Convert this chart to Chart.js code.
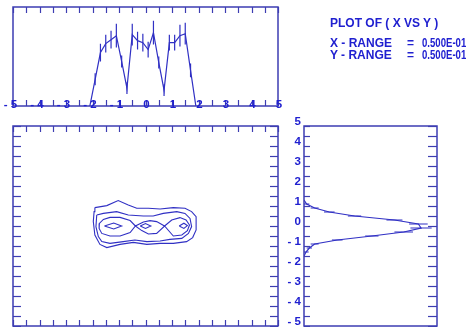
<!DOCTYPE html>
<html><head><meta charset="utf-8">
<script src="https://cdn.jsdelivr.net/npm/chart.js@4.4.0/dist/chart.umd.min.js"></script>
<style>
html,body{margin:0;padding:0;background:#fff;width:466px;height:327px;overflow:hidden;position:relative}
canvas{position:absolute;left:0;top:0}
.t{position:absolute;font:bold 12px "Liberation Sans",Arial,sans-serif;color:#2020d0;white-space:pre;line-height:12px}
</style></head><body>
<canvas id="cTop" width="466" height="327"></canvas>
<canvas id="cMain" width="466" height="327"></canvas>
<canvas id="cSide" width="466" height="327"></canvas>
<div class="t" style="left:330px;top:17px">PLOT OF ( X VS Y )</div>
<div class="t" style="left:330px;top:37px">X - RANGE</div>
<div class="t" style="left:407px;top:37px">=</div>
<div class="t" style="left:422px;top:37px;transform:scaleX(0.8);transform-origin:0 0">0.500E-01</div>
<div class="t" style="left:330px;top:48.5px">Y - RANGE</div>
<div class="t" style="left:407px;top:48.5px">=</div>
<div class="t" style="left:422px;top:48.5px;transform:scaleX(0.8);transform-origin:0 0">0.500E-01</div>
<script>
// ---- data ----
const projX = [-2.1,-1.9,-1.7,-1.5,-1.3,-1.1,-0.9,-0.7,-0.5,-0.3,-0.1,0.1,0.3,0.5,0.7,0.9,1.1,1.3,1.5,1.7,1.9];
const projXCounts = [0,27,54,63,67,71,45,18,72,66,64,57,74,44,16,64,64,71,73,36,0];
const projXErr = [0,6,9,9,9,12,6,6,11,9,9,8,12,6,6,8,8,11,11,7,0];

const projY = [1.3,1.1,0.9,0.7,0.5,0.3,0.1,-0.1,-0.3,-0.5,-0.7,-0.9,-1.1,-1.3,-1.5];
const projYCounts = [0,2,8,19,38,68,86,88,75,51,25,8,4,1.5,0];
const projYErr = [0,2,3,4,5,6,7,8,7,5,4,3,2,2,0];

const contour1 = [[-1.91,0.92],[-1.46,1.02],[-1.03,1.27],[-0.65,1.05],[-0.33,0.89],[0.11,0.89],[0.55,0.85],[1.05,0.92],[1.49,0.89],[1.74,0.72],[1.91,0.47],[1.91,-0.2],[1.78,-0.58],[1.55,-0.78],[1.05,-0.87],[0.55,-0.87],[0.05,-0.92],[-0.46,-0.82],[-0.96,-0.92],[-1.46,-1.08],[-1.72,-0.92],[-1.91,-0.45],[-1.97,0.22],[-1.94,0.72]];
const contour2 = [[-1.84,0.55],[-1.59,0.63],[-1.09,0.72],[-0.65,0.55],[-0.08,0.5],[0.29,0.5],[0.67,0.63],[1.18,0.72],[1.49,0.63],[1.68,0.38],[1.74,-0.03],[1.62,-0.37],[1.37,-0.62],[0.92,-0.67],[0.55,-0.75],[0.05,-0.78],[-0.4,-0.7],[-0.84,-0.78],[-1.34,-0.87],[-1.65,-0.78],[-1.78,-0.53],[-1.87,-0.03]];
const contour3 = [[-0.38,0],[-0.58,0.27],[-0.96,0.43],[-1.34,0.43],[-1.59,0.33],[-1.74,0.13],[-1.75,-0.12],[-1.65,-0.37],[-1.34,-0.5],[-0.96,-0.5],[-0.58,-0.33],[-0.38,0],[-0.08,0.2],[0.17,0.27],[0.42,0.22],[0.72,0],[0.99,0.3],[1.3,0.42],[1.53,0.3],[1.66,0.05],[1.58,-0.23],[1.37,-0.45],[1.05,-0.5],[0.72,0],[0.42,-0.37],[0.11,-0.4],[-0.14,-0.23]];
const contourL = [[-1.55,0],[-1.2,0.15],[-0.9,0],[-1.2,-0.15]];
const contourM = [[-0.2,0],[0,0.12],[0.2,0],[0,-0.12]];
const contourR = [[1.27,0],[1.45,0.14],[1.58,0.02],[1.45,-0.12]];

const tickSteps = [-5,-4.5,-4,-3.5,-3,-2.5,-2,-1.5,-1,-0.5,0,0.5,1,1.5,2,2.5,3,3.5,4,4.5,5];
const labelValues = [-5,-4,-3,-2,-1,0,1,2,3,4,5];
const xTickLabels = ['- 5','- 4','- 3','- 2','- 1','0','1','2','3','4','5'];
const yTickLabels = ['- 5','- 4','- 3','- 2','- 1','0','1','2','3','4','5'];

// ---- style ----
const FRAME = '#3d3db2';
const DATA = '#3030c4';
const TEXT = '#2020d0';
const FONT = 'bold 11.5px "Liberation Sans", Arial, sans-serif';
const W = 466, H = 327;

const framePlugin = {
  id: 'frameTicks',
  afterDatasetsDraw(chart, args, opts) {
    const {ctx, chartArea: a, scales} = chart;
    ctx.save();
    ctx.strokeStyle = FRAME;
    ctx.lineWidth = 1.5;
    ctx.strokeRect(a.left, a.top, a.right - a.left, a.bottom - a.top);
    ctx.lineWidth = 1.2;
    (opts.ticks || []).forEach(t => {
      const s = scales[t.axis];
      tickSteps.forEach(v => {
        const p = Math.round(s.getPixelForValue(v)) + 0.5;
        ctx.beginPath();
        if (t.side === 'top') { ctx.moveTo(p, a.top); ctx.lineTo(p, a.top + t.len); }
        if (t.side === 'bottom') { ctx.moveTo(p, a.bottom); ctx.lineTo(p, a.bottom - t.len); }
        if (t.side === 'left') { ctx.moveTo(a.left, p); ctx.lineTo(a.left + t.len, p); }
        if (t.side === 'right') { ctx.moveTo(a.right, p); ctx.lineTo(a.right - t.len, p); }
        ctx.stroke();
      });
    });
    if (opts.labels) {
      const L = opts.labels;
      const s = scales[L.axis];
      ctx.font = FONT;
      ctx.fillStyle = TEXT;
      ctx.textBaseline = 'middle';
      ctx.textAlign = 'right';
      labelValues.forEach((v, i) => {
        const txt = L.texts[i];
        const p = s.getPixelForValue(v);
        if (L.axis === 'x') {
          const dw = ctx.measureText(txt.slice(-1)).width;
          ctx.fillText(txt, p + dw / 2 + 1, L.pos);
        } else {
          ctx.fillText(txt, L.pos, p - 4);
        }
      });
    }
    ctx.restore();
  }
};

function baseOpts(pad, xr, yr, plug) {
  return {
    responsive: false, animation: false, events: [],
    layout: {padding: pad},
    scales: {
      x: {type: 'linear', min: xr[0], max: xr[1], display: false},
      y: {type: 'linear', min: yr[0], max: yr[1], display: false}
    },
    plugins: {legend: {display: false}, tooltip: {enabled: false}, frameTicks: plug}
  };
}
const lineDs = (data, w) => ({data, showLine: true, spanGaps: false, pointRadius: 0, borderColor: DATA, borderWidth: w, fill: false, tension: 0});
const closed = c => c.concat([c[0]]).map(p => ({x: p[0], y: p[1]}));

// ---- top: X projection ----
const topLine = projX.map((x, i) => ({x, y: projXCounts[i]}));
const topErr = [];
projX.forEach((x, i) => {
  if (projXErr[i] > 0) topErr.push({x, y: projXCounts[i] - projXErr[i]}, {x, y: projXCounts[i] + projXErr[i]}, {x, y: null});
});
new Chart(document.getElementById('cTop'), {
  type: 'scatter',
  data: {datasets: [lineDs(topLine, 1.2), lineDs(topErr, 1.2)]},
  options: baseOpts({left: 13, top: 7, right: W - 278, bottom: H - 106}, [-5, 5], [0, 100], {
    ticks: [{axis: 'x', side: 'top', len: 6}, {axis: 'x', side: 'bottom', len: 6}],
    labels: {axis: 'x', texts: xTickLabels, pos: 104.5}
  }),
  plugins: [framePlugin]
});

// ---- main: contour plot ----
new Chart(document.getElementById('cMain'), {
  type: 'scatter',
  data: {datasets: [contour1, contour2, contour3, contourL, contourM, contourR].map(c => lineDs(closed(c), 1.1))},
  options: baseOpts({left: 13, top: 126, right: W - 278, bottom: H - 326}, [-5, 5], [-5, 5], {
    ticks: [{axis: 'x', side: 'top', len: 6}, {axis: 'x', side: 'bottom', len: 6}, {axis: 'y', side: 'left', len: 8}, {axis: 'y', side: 'right', len: 8}]
  }),
  plugins: [framePlugin]
});

// ---- side: Y projection ----
const sideLine = projY.map((y, i) => ({x: projYCounts[i], y}));
const sideErr = [];
projY.forEach((y, i) => {
  if (projYErr[i] > 0) sideErr.push({x: projYCounts[i] - projYErr[i], y}, {x: projYCounts[i] + projYErr[i], y}, {x: null, y});
});
new Chart(document.getElementById('cSide'), {
  type: 'scatter',
  data: {datasets: [lineDs(sideLine, 1.2), lineDs(sideErr, 1.2)]},
  options: baseOpts({left: 304, top: 126, right: W - 437, bottom: H - 326}, [0, 100], [-5, 5], {
    ticks: [{axis: 'y', side: 'left', len: 6}, {axis: 'y', side: 'right', len: 9}],
    labels: {axis: 'y', texts: yTickLabels, pos: 301}
  }),
  plugins: [framePlugin]
});
</script>
</body></html>
